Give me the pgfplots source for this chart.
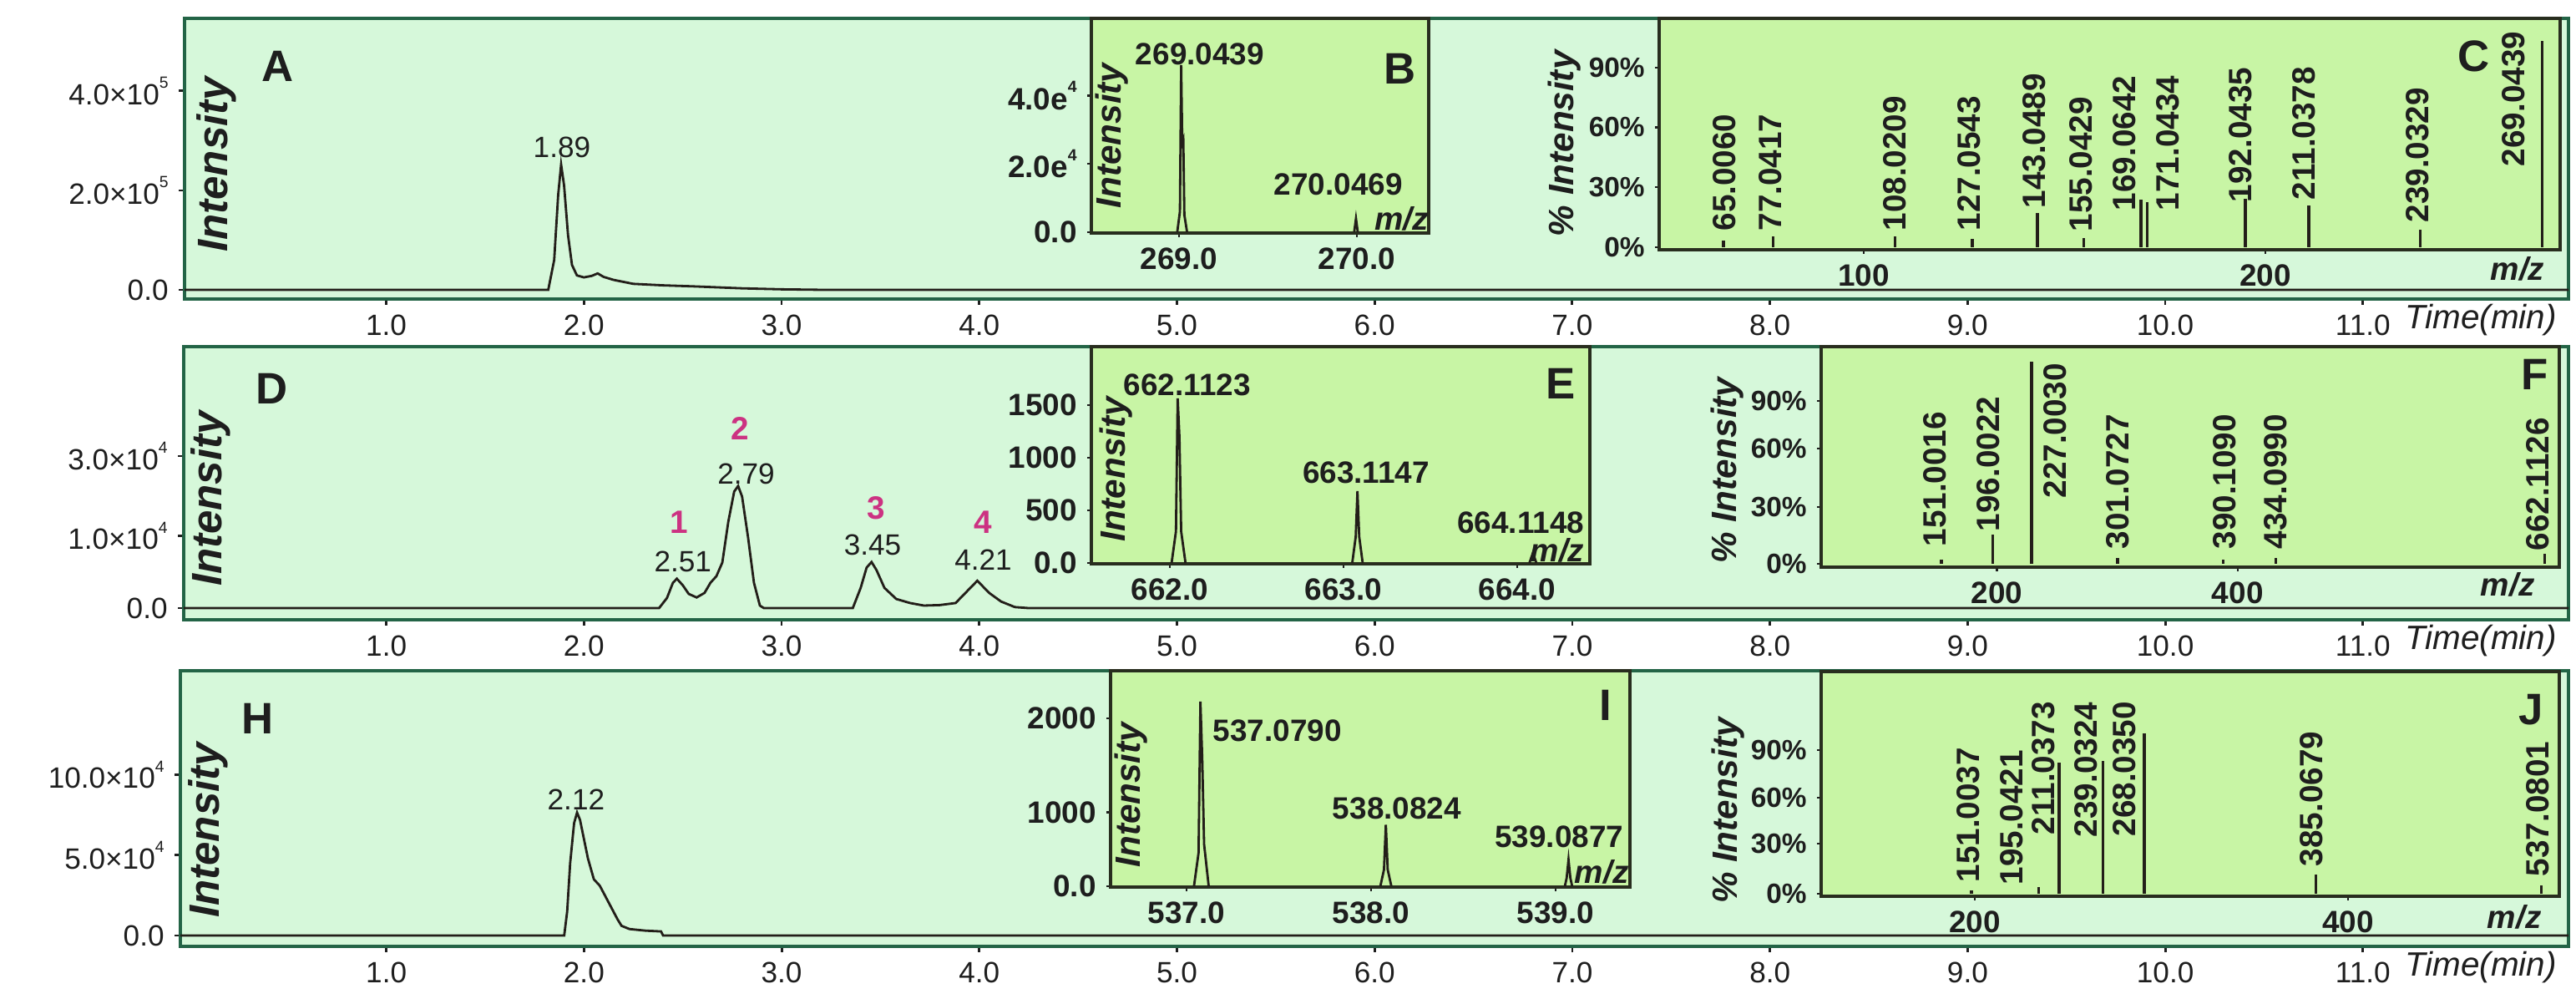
\documentclass[border=0pt]{standalone}
\usepackage{fontspec}
\setmainfont{Liberation Sans}
\usepackage{pgfplots}
\pgfplotsset{compat=1.18}

\definecolor{bgmint}{RGB}{214,248,218}
\definecolor{bgin}{RGB}{200,245,165}
\definecolor{frameG}{RGB}{35,100,70}
\definecolor{frameI}{RGB}{40,45,30}
\definecolor{traceC}{RGB}{35,30,25}
\definecolor{txt}{RGB}{30,30,30}
\definecolor{mag}{RGB}{204,50,130}

\newcommand{\supx}[1]{\raisebox{0.55em}{\fontsize{5.5}{6}\selectfont #1}}

\pgfplotsset{
  outer/.style={scale only axis, anchor=south west, clip=false,
    axis background/.style={fill=bgmint},
    axis line style={draw=frameG, line width=1.3pt},
    xtick={1,2,...,11},
    xticklabels={1.0,2.0,3.0,4.0,5.0,6.0,7.0,8.0,9.0,10.0,11.0},
    tick pos=left, tick align=outside, major tick length=0.07cm,
    tick style={draw=txt, line width=0.8pt},
    ticklabel style={font=\fontsize{10}{12}\selectfont, text=txt},
  },
  inset/.style={scale only axis, anchor=south west, clip=false,
    axis background/.style={fill=bgin},
    axis line style={draw=frameI, line width=1.1pt},
    tick pos=left, tick align=outside, major tick length=0.05cm,
    tick style={draw=txt, line width=0.7pt},
    ticklabel style={font=\bfseries\fontsize{10.5}{12}\selectfont, text=txt},
  },
  spec/.style={inset,
    yticklabel style={font=\bfseries\fontsize{9.5}{11}\selectfont, text=txt}},
  trace/.style={draw=traceC, line width=0.8pt, mark=none},
  stick/.style={ycomb, draw=traceC, line width=0.9pt, mark=none},
}
\tikzset{
  lbl/.style={font=\bfseries\fontsize{10.5}{12}\selectfont, text=txt, inner sep=0},
  vlbl/.style={font=\bfseries\fontsize{11}{12}\selectfont, text=txt, inner sep=0, rotate=90, anchor=west},
  rt/.style={font=\fontsize{10}{12}\selectfont, text=txt, inner sep=0},
  num/.style={font=\bfseries\fontsize{11}{12}\selectfont, text=mag, inner sep=0},
  pl/.style={font=\bfseries\fontsize{15}{16}\selectfont, text=txt, inner sep=0},
  ylab/.style={font=\bfseries\itshape\fontsize{14.5}{16}\selectfont, text=txt, inner sep=0, rotate=90},
  ylabs/.style={font=\bfseries\itshape\fontsize{12}{14}\selectfont, text=txt, inner sep=0, rotate=90},
  mz/.style={font=\bfseries\itshape\fontsize{11}{12}\selectfont, text=txt, inner sep=0},
  tm/.style={font=\itshape\fontsize{11.5}{13}\selectfont, text=txt, inner sep=0, anchor=west},
}

\begin{document}
\begin{tikzpicture}
\path[use as bounding box] (0,0) rectangle (30.85,11.96);

% ---------- row 1: chromatogram A ----------
\begin{axis}[outer, at={(2.21cm,8.38cm)}, width=28.55cm, height=3.36cm,
  xmin=-0.02, xmax=12.04, ymin=-0.185, ymax=5.46,
  ytick={0,2,4}, yticklabels={0.0,2.0×10\supx{5},4.0×10\supx{5}}]
\addplot[trace] coordinates {
  (-0.02,0) (1.82,0) (1.85,0.6) (1.87,1.9) (1.885,2.52) (1.90,2.1) (1.92,1.1)
  (1.94,0.5) (1.965,0.29) (2.0,0.25) (2.04,0.28) (2.07,0.33) (2.10,0.26)
  (2.15,0.20) (2.25,0.12) (2.40,0.09) (2.55,0.07) (2.80,0.03) (3.0,0.01)
  (3.2,0) (12.04,0)};
\node[rt] at (axis cs:1.889,2.86) {1.89};
\node[pl] at (axis cs:0.45,4.49) {A};
\node[ylab] at (axis cs:0.14,2.52) {Intensity};
\node[tm] at (axis cs:11.21,-0.185) [yshift=-0.25cm] {Time(min)};
\end{axis}

% inset B
\begin{axis}[inset, at={(13.07cm,9.17cm)}, width=4.04cm, height=2.57cm,
  xmin=268.507, xmax=270.404, ymin=-0.03, ymax=6.27,
  xtick={269,270}, xticklabels={269.0,270.0},
  ytick={0,2,4}, yticklabels={0.0,2.0e\supx{4},4.0e\supx{4}}]
\addplot[trace] coordinates {(268.99,0) (269.005,0.6) (269.012,4.9) (269.018,2.6)
  (269.024,2.7) (269.03,0.5) (269.045,0)};
\addplot[trace] coordinates {(269.985,0) (269.995,0.39) (270.005,0)};
\node[lbl] at (axis cs:269.117,5.22) {269.0439};
\node[lbl] at (axis cs:269.896,1.39) {270.0469};
\node[mz] at (axis cs:270.25,0.39) {m/z};
\node[pl] at (axis cs:270.24,4.80) {B};
\node[ylabs] at (axis cs:268.624,2.83) {Intensity};
\end{axis}

% inset C
\begin{axis}[spec, at={(19.87cm,8.97cm)}, width=10.79cm, height=2.77cm,
  xmin=49.0, xmax=273.4, ymin=-1.3, ymax=114.6,
  xtick={100,200}, xticklabels={100,200},
  ytick={0,30,60,90}, yticklabels={0\%,30\%,60\%,90\%}]
\addplot[stick] coordinates {
  (65.0,3.3) (77.3,5.4) (107.8,5.4) (127.0,4.2) (143.2,17.2) (154.8,4.6)
  (169.0,23.8) (170.6,22.6) (195.0,24.3) (210.8,20.9) (238.6,8.8) (269.0,103.3)};
\node[vlbl] at (axis cs:65.2,7.9) {65.0060};
\node[vlbl] at (axis cs:76.6,7.9) {77.0417};
\node[vlbl] at (axis cs:107.6,7.9) {108.0209};
\node[vlbl] at (axis cs:126.1,7.9) {127.0543};
\node[vlbl] at (axis cs:142.4,19.2) {143.0489};
\node[vlbl] at (axis cs:154.0,7.5) {155.0429};
\node[vlbl] at (axis cs:164.8,18.0) {169.0642};
\node[vlbl] at (axis cs:175.6,18.0) {171.0434};
\node[vlbl] at (axis cs:193.7,22.2) {192.0435};
\node[vlbl] at (axis cs:209.5,23.4) {211.0378};
\node[vlbl] at (axis cs:237.8,12.1) {239.0329};
\node[vlbl] at (axis cs:261.7,40.2) {269.0439};
\node[pl] at (axis cs:251.9,95.8) {C};
\node[mz] at (axis cs:262.8,-10.9) {m/z};
\node[ylabs] at (axis cs:25.5,51.9) {\% Intensity};
\end{axis}

% ---------- row 2: chromatogram D ----------
\begin{axis}[outer, at={(2.20cm,4.54cm)}, width=28.56cm, height=3.27cm,
  xmin=-0.025, xmax=12.04, ymin=-0.23, ymax=5.16,
  ytick={0,1.43,3}, yticklabels={0.0,1.0×10\supx{4},3.0×10\supx{4}}]
\addplot[trace] coordinates {
  (-0.025,0) (2.38,0) (2.42,0.2) (2.45,0.5) (2.47,0.58) (2.50,0.45) (2.53,0.28)
  (2.57,0.21) (2.61,0.3) (2.64,0.5) (2.67,0.63) (2.70,0.9) (2.73,1.7) (2.76,2.3)
  (2.78,2.41) (2.80,2.2) (2.83,1.4) (2.86,0.5) (2.89,0.05) (2.91,0) (3.36,0)
  (3.40,0.4) (3.43,0.8) (3.455,0.91) (3.48,0.75) (3.52,0.4) (3.58,0.18)
  (3.65,0.1) (3.72,0.05) (3.80,0.06) (3.88,0.1) (3.93,0.3) (3.99,0.54)
  (4.05,0.3) (4.11,0.13) (4.18,0.02) (4.25,0) (12.04,0)};
\node[num] at (axis cs:2.48,1.70) {1};
\node[rt]  at (axis cs:2.50,0.92) {2.51};
\node[num] at (axis cs:2.79,3.54) {2};
\node[rt]  at (axis cs:2.82,2.65) {2.79};
\node[num] at (axis cs:3.48,1.98) {3};
\node[rt]  at (axis cs:3.46,1.25) {3.45};
\node[num] at (axis cs:4.02,1.70) {4};
\node[rt]  at (axis cs:4.02,0.96) {4.21};
\node[pl] at (axis cs:0.42,4.33) {D};
\node[ylab] at (axis cs:0.11,2.16) {Intensity};
\node[tm] at (axis cs:11.21,-0.23) [yshift=-0.25cm] {Time(min)};
\end{axis}

% inset E
\begin{axis}[inset, at={(13.07cm,5.21cm)}, width=5.97cm, height=2.60cm,
  xmin=661.548, xmax=664.418, ymin=-8, ymax=2055,
  xtick={662,663,664}, xticklabels={662.0,663.0,664.0},
  ytick={0,500,1000,1500}, yticklabels={0.0,500,1000,1500}]
\addplot[trace] coordinates {(662.01,0) (662.035,300) (662.045,1563) (662.055,1200)
  (662.065,300) (662.09,0)};
\addplot[trace] coordinates {(663.05,0) (663.07,250) (663.08,683) (663.09,250) (663.11,0)};
\addplot[trace] coordinates {(664.07,0) (664.09,95) (664.11,0)};
\node[lbl] at (axis cs:662.10,1690) {662.1123};
\node[lbl] at (axis cs:663.13,857) {663.1147};
\node[lbl] at (axis cs:664.02,381) {664.1148};
\node[mz] at (axis cs:664.23,119) {m/z};
\node[pl] at (axis cs:664.25,1706) {E};
\node[ylabs] at (axis cs:661.69,889) {Intensity};
\end{axis}

% inset F
\begin{axis}[spec, at={(21.81cm,5.17cm)}, width=8.84cm, height=2.64cm,
  xmin=49.1, xmax=674.6, ymin=-1.9, ymax=121.5,
  xtick={198,402}, xticklabels={200,400},
  ytick={0,31.8,64.5,91.1}, yticklabels={0\%,30\%,60\%,90\%}]
\addplot[stick] coordinates {
  (151.0,2.3) (194.2,16.4) (227.4,113) (300.3,3.3) (389.5,2.3) (434.1,3.3) (662.0,5.6)};
\node[vlbl] at (axis cs:145.3,9.3) {151.0016};
\node[vlbl] at (axis cs:190.6,17.8) {196.0022};
\node[vlbl] at (axis cs:247.2,36.4) {227.0030};
\node[vlbl] at (axis cs:300.3,7.9) {301.0727};
\node[vlbl] at (axis cs:390.9,7.9) {390.1090};
\node[vlbl] at (axis cs:434.1,7.9) {434.0990};
\node[vlbl] at (axis cs:656.3,7.0) {662.1126};
\node[pl] at (axis cs:653.5,106) {F};
\node[mz] at (axis cs:630.8,-11.7) {m/z};
\node[ylabs] at (axis cs:-30.2,52.3) {\% Intensity};
\end{axis}

% ---------- row 3: chromatogram H ----------
\begin{axis}[outer, at={(2.16cm,0.63cm)}, width=28.60cm, height=3.30cm,
  xmin=-0.042, xmax=12.04, ymin=-0.68, ymax=16.5,
  ytick={0,5,10}, yticklabels={0.0,5.0×10\supx{4},10.0×10\supx{4}}]
\addplot[trace] coordinates {
  (-0.042,0) (1.90,0) (1.915,1.5) (1.93,4.5) (1.95,7.0) (1.965,7.66) (1.98,7.2)
  (1.99,6.6) (2.02,4.8) (2.05,3.5) (2.08,3.1) (2.11,2.4) (2.14,1.7) (2.17,1.0)
  (2.19,0.6) (2.23,0.4) (2.31,0.3) (2.39,0.25) (2.40,0) (12.04,0)};
\node[rt] at (axis cs:1.96,8.49) {2.12};
\node[pl] at (axis cs:0.35,13.5) {H};
\node[ylab] at (axis cs:0.10,6.56) {Intensity};
\node[tm] at (axis cs:11.21,-0.68) [yshift=-0.25cm] {Time(min)};
\end{axis}

% inset I
\begin{axis}[inset, at={(13.30cm,1.34cm)}, width=6.22cm, height=2.59cm,
  xmin=536.588, xmax=539.403, ymin=-8, ymax=2564,
  xtick={537,538,539}, xticklabels={537.0,538.0,539.0},
  ytick={0,881,2000}, yticklabels={0.0,1000,2000}]
\addplot[trace] coordinates {(537.04,0) (537.065,400) (537.075,2198) (537.085,1500)
  (537.095,500) (537.12,0)};
\addplot[trace] coordinates {(538.05,0) (538.07,200) (538.08,733) (538.09,200) (538.11,0)};
\addplot[trace] coordinates {(539.05,0) (539.06,100) (539.07,317) (539.08,100) (539.09,0)};
\node[lbl, anchor=west] at (axis cs:537.14,1851) {537.0790};
\node[lbl] at (axis cs:538.14,931) {538.0824};
\node[lbl] at (axis cs:539.02,594) {539.0877};
\node[mz] at (axis cs:539.25,168) {m/z};
\node[pl] at (axis cs:539.27,2149) {I};
\node[ylabs] at (axis cs:536.70,1089) {Intensity};
\end{axis}

% inset J
\begin{axis}[spec, at={(21.81cm,1.23cm)}, width=8.84cm, height=2.69cm,
  xmin=49.1, xmax=549.4, ymin=-1.6, ymax=139.3,
  xtick={153.3,406.2}, xticklabels={200,400},
  ytick={0,31.4,60.2,90}, yticklabels={0\%,30\%,60\%,90\%}]
\addplot[stick] coordinates {
  (151.0,2.1) (196.3,4.2) (210.4,82) (239.9,83) (268.1,100.5) (384.2,12) (537.0,5.2)};
\node[vlbl] at (axis cs:148.7,6.8) {151.0037};
\node[vlbl] at (axis cs:178.2,5.2) {195.0421};
\node[vlbl] at (axis cs:199.7,36.6) {211.0373};
\node[vlbl] at (axis cs:228.5,35.1) {239.0324};
\node[vlbl] at (axis cs:254.6,35.6) {268.0350};
\node[vlbl] at (axis cs:381.3,16.8) {385.0679};
\node[vlbl] at (axis cs:534.7,10.5) {537.0801};
\node[pl] at (axis cs:530.2,115.2) {J};
\node[mz] at (axis cs:518.9,-14.7) {m/z};
\node[ylabs] at (axis cs:-14,52) {\% Intensity};
\end{axis}
\end{tikzpicture}
\end{document}
